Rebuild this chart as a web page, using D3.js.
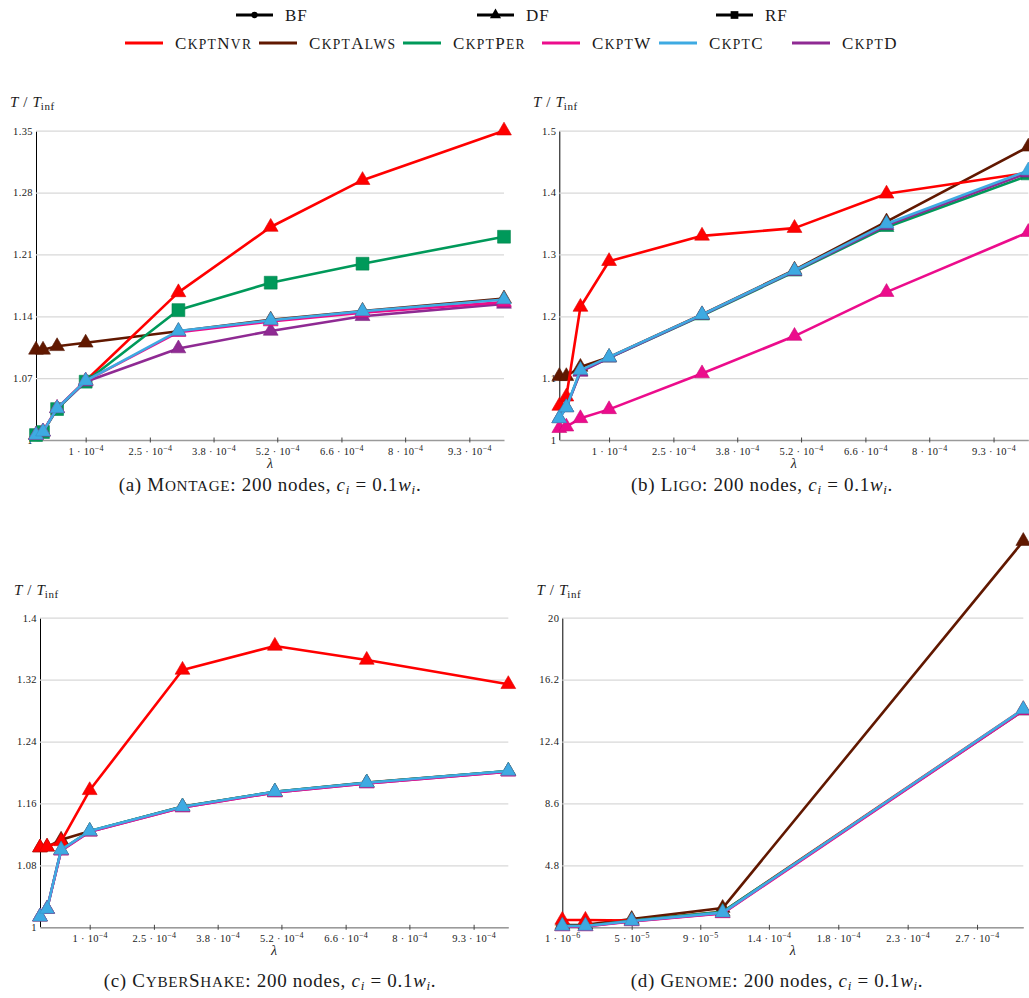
<!DOCTYPE html>
<html lang="en">
<head>
<meta charset="utf-8">
<title>Checkpointing strategies</title>
<script src="https://cdn.jsdelivr.net/npm/d3@7"></script>
<style>
    body { margin: 0; background: #fff; }
    svg text { font-family: "Liberation Serif", "DejaVu Serif", serif; fill: #1a1a1a; }
</style>
</head>
<body>
<div id="chart"></div>
<script>
    var W = 1029, H = 998;

    // lambda values on the x axis
    var lambdas = [1e-6, 1.6e-5, 4.6e-5, 1.07e-4, 3.05e-4, 5.02e-4, 6.98e-4, 1e-3];
    var lambdasGenome = [1e-6, 1.6e-5, 4.6e-5, 1.05e-4, 3e-4];

    var strategies = ["CkptNvr", "CkptAlws", "CkptPer", "CkptW", "CkptC", "CkptD"];
    var colors = ["#ff0000", "#611800", "#00995a", "#ec0c8c", "#3eaae2", "#8f2a93"];
    var drawOrder = [1, 0, 2, 5, 3, 4];

    var traversals = ["BF", "DF", "RF"];
    var traversalMarks = ["circle", "triangle", "square"];

    // T / Tinf, one row per strategy (same order as strategies)
    var montage = [
        [1.0056, 1.0094, 1.0358, 1.067, 1.167, 1.241, 1.294, 1.35],
        [1.102, 1.102, 1.106, 1.110, 1.123, 1.136, 1.146, 1.160],
        [1.0056, 1.009, 1.035, 1.066, 1.147, 1.178, 1.1995, 1.230],
        [1.0056, 1.0094, 1.036, 1.067, 1.122, 1.134, 1.144, 1.156],
        [1.0056, 1.0094, 1.0358, 1.067, 1.1234, 1.1355, 1.1456, 1.159],
        [1.0056, 1.0094, 1.0358, 1.066, 1.1035, 1.1234, 1.140, 1.154]
    ];
    var ligo = [
        [1.055, 1.07, 1.215, 1.289, 1.330, 1.3425, 1.398, 1.432],
        [1.103, 1.103, 1.118, 1.134, 1.203, 1.275, 1.353, 1.474],
        [1.035, 1.0527, 1.111, 1.133, 1.201, 1.272, 1.344, 1.4275],
        [1.019, 1.0215, 1.035, 1.0495, 1.1075, 1.168, 1.239, 1.336],
        [1.035, 1.0527, 1.113, 1.134, 1.2027, 1.274, 1.3495, 1.4355],
        [1.035, 1.0527, 1.110, 1.133, 1.202, 1.273, 1.347, 1.432]
    ];
    var cybershake = [
        [1.103, 1.104, 1.111, 1.177, 1.3325, 1.3635, 1.3454, 1.314],
        [1.103, 1.104, 1.113, 1.124, 1.156, 1.175, 1.187, 1.202],
        [1.0137, 1.0237, 1.100, 1.1244, 1.1558, 1.1752, 1.1868, 1.202],
        [1.0137, 1.0237, 1.099, 1.1234, 1.1548, 1.1742, 1.1858, 1.201],
        [1.0137, 1.0237, 1.100, 1.1244, 1.1558, 1.1752, 1.1868, 1.202],
        [1.0137, 1.0237, 1.099, 1.1234, 1.1548, 1.1742, 1.1858, 1.201]
    ];
    var genome = [
        [1.45, 1.45, 1.42, 1.95, 14.38],
        [1.14, 1.16, 1.50, 2.18, 24.7],
        [1.08, 1.08, 1.42, 1.95, 14.3],
        [1.05, 1.05, 1.36, 1.85, 14.3],
        [1.08, 1.08, 1.39, 1.90, 14.38],
        [1.06, 1.06, 1.37, 1.87, 14.33]
    ];

    // marker used by each strategy in each panel
    var montageMarks = ["triangle", "triangle", "square", "triangle", "triangle", "triangle"];
    var otherMarks = ["triangle", "triangle", "triangle", "triangle", "triangle", "triangle"];

    // tick values and labels
    var xTicksMain = [1.07e-4, 2.44e-4, 3.8e-4, 5.16e-4, 6.53e-4, 7.89e-4, 9.26e-4];
    var xTickMantMain = ["1", "2.5", "3.8", "5.2", "6.6", "8", "9.3"];
    var xTickExpMain = ["\u22124", "\u22124", "\u22124", "\u22124", "\u22124", "\u22124", "\u22124"];
    var xTicksGenome = [1e-6, 4.6e-5, 9.05e-5, 1.35e-4, 1.8e-4, 2.25e-4, 2.7e-4];
    var xTickMantGenome = ["1", "5", "9", "1.4", "1.8", "2.3", "2.7"];
    var xTickExpGenome = ["\u22126", "\u22125", "\u22125", "\u22124", "\u22124", "\u22124", "\u22124"];

    var yTicksMontage = [1, 1.07, 1.14, 1.21, 1.28, 1.35];
    var yTicksLigo = [1, 1.1, 1.2, 1.3, 1.4, 1.5];
    var yTicksCyber = [1, 1.08, 1.16, 1.24, 1.32, 1.4];
    var yTicksGenome = [1, 4.8, 8.6, 12.4, 16.2, 20];

    var panels = [
        {values: montage, xs: lambdas, marks: montageMarks, yTicks: yTicksMontage, xTicks: xTicksMain,
            mant: xTickMantMain, exp: xTickExpMain, xDomain: [1e-6, 1e-3],
            left: 36, right: 504, top: 130.7, bottom: 440, titleX: 10, titleY: 107,
            letter: "a", name: "Montage", capX: 270, capY: 491},
        {values: ligo, xs: lambdas, marks: otherMarks, yTicks: yTicksLigo, xTicks: xTicksMain,
            mant: xTickMantMain, exp: xTickExpMain, xDomain: [1e-6, 1e-3],
            left: 559.3, right: 1028.3, top: 130.7, bottom: 440, titleX: 533, titleY: 107,
            letter: "b", name: "Ligo", capX: 762, capY: 491},
        {values: cybershake, xs: lambdas, marks: otherMarks, yTicks: yTicksCyber, xTicks: xTicksMain,
            mant: xTickMantMain, exp: xTickExpMain, xDomain: [1e-6, 1e-3],
            left: 40, right: 508.3, top: 617.7, bottom: 927.3, titleX: 14, titleY: 595,
            letter: "c", name: "CyberShake", capX: 270, capY: 987},
        {values: genome, xs: lambdasGenome, marks: otherMarks, yTicks: yTicksGenome, xTicks: xTicksGenome,
            mant: xTickMantGenome, exp: xTickExpGenome, xDomain: [1e-6, 3e-4],
            left: 562.3, right: 1023.3, top: 617.7, bottom: 927.3, titleX: 536.5, titleY: 595,
            letter: "d", name: "Genome", capX: 777, capY: 987}
    ];

    var svg = d3.select("#chart").append("svg")
        .attr("width", W)
        .attr("height", H);

    // marker shapes
    function markPath(kind) {
        if (kind === "square") return d3.symbol(d3.symbolSquare, 165)();
        if (kind === "circle") return d3.symbol(d3.symbolCircle, 55)();
        return d3.symbol(d3.symbolTriangle, 95)();
    }

    // lower case letters become smaller capitals
    function smallCaps(sel, str, size) {
        var runs = [];
        for (var i = 0; i < str.length; i++) {
            var ch = str[i];
            var up = ch === ch.toUpperCase();
            if (runs.length && runs[runs.length - 1].up === up) runs[runs.length - 1].s += ch;
            else runs.push({up: up, s: ch});
        }
        runs.forEach(function (r) {
            sel.append("tspan")
                .attr("font-size", r.up ? size : size * 0.8)
                .text(r.s.toUpperCase());
        });
    }

    // legend
    var legTop = svg.append("g");
    var legTopLine = [236, 477, 716];
    traversals.forEach(function (t, i) {
        legTop.append("line")
            .attr("x1", legTopLine[i]).attr("x2", legTopLine[i] + 37)
            .attr("y1", 15).attr("y2", 15)
            .attr("stroke", "#000").attr("stroke-width", 3);
        legTop.append("path")
            .attr("d", markPath(traversalMarks[i]))
            .attr("transform", "translate(" + (legTopLine[i] + 18.5) + ",15)" + (traversalMarks[i] === "square" ? " scale(0.6)" : " scale(0.75)"))
            .attr("fill", "#000");
        legTop.append("text")
            .attr("x", legTopLine[i] + 49).attr("y", 21)
            .attr("font-size", 17)
            .attr("letter-spacing", 1)
            .text(t);
    });

    var legBot = svg.append("g");
    var legBotLine = [125, 259, 403, 542, 659, 792];
    strategies.forEach(function (s, i) {
        legBot.append("line")
            .attr("x1", legBotLine[i]).attr("x2", legBotLine[i] + 38)
            .attr("y1", 43).attr("y2", 43)
            .attr("stroke", colors[i]).attr("stroke-width", 3);
        var t = legBot.append("text")
            .attr("x", legBotLine[i] + 50).attr("y", 48.5)
            .attr("letter-spacing", 1.3);
        smallCaps(t, s, 17);
    });

    panels.forEach(function (p) {
        var g = svg.append("g");

        var x = d3.scaleLinear().domain(p.xDomain).range([p.left, p.right]);
        var y = d3.scaleLinear().domain([p.yTicks[0], p.yTicks[p.yTicks.length - 1]]).range([p.bottom, p.top]);

        // grid + left axis
        var yAxis = d3.axisLeft(y)
            .tickValues(p.yTicks)
            .tickFormat(function (d) { return String(d); })
            .tickSize(-(p.right - p.left))
            .tickSizeOuter(0)
            .tickPadding(3);
        var ya = g.append("g")
            .attr("transform", "translate(" + p.left + ",0)")
            .attr("font-family", null)
            .call(yAxis);
        ya.select(".domain").attr("stroke", "#000").attr("stroke-width", 1);
        ya.selectAll(".tick line").attr("stroke", "#d8d8d8").attr("stroke-width", 1.2);
        ya.selectAll(".tick text")
            .attr("font-size", 10.5)
            .attr("letter-spacing", 0.4)
            .attr("fill", "#1a1a1a");

        // bottom axis
        var xAxis = d3.axisBottom(x)
            .tickValues(p.xTicks)
            .tickFormat("")
            .tickSizeOuter(0);
        var xa = g.append("g")
            .attr("transform", "translate(0," + p.bottom + ")")
            .call(xAxis);
        xa.select(".domain").attr("stroke", "#9a9a9a").attr("stroke-width", 1.4);
        xa.selectAll(".tick line").attr("y1", -2.5).attr("y2", 2.5).attr("stroke", "#444");
        xa.selectAll(".tick text").remove();
        xa.selectAll(".tick").each(function (d, i) {
            var t = d3.select(this).append("text")
                .attr("y", 15)
                .attr("text-anchor", "middle")
                .attr("font-size", 10.5)
                .attr("letter-spacing", 0.3)
                .attr("fill", "#1a1a1a");
            t.append("tspan").text(p.mant[i] + " \u00b7 10");
            t.append("tspan").attr("font-size", 8).attr("dy", -4.5).text(p.exp[i]);
        });

        // axis titles
        var yt = g.append("text")
            .attr("x", p.titleX).attr("y", p.titleY)
            .attr("font-size", 15);
        yt.append("tspan").attr("font-style", "italic").text("T");
        yt.append("tspan").attr("dx", 5).text("/");
        yt.append("tspan").attr("dx", 5).attr("font-style", "italic").text("T");
        yt.append("tspan").attr("font-size", 11).attr("dy", 3).attr("letter-spacing", 0.5).text("inf");

        g.append("text")
            .attr("x", (p.left + p.right) / 2).attr("y", p.bottom + 28)
            .attr("text-anchor", "middle")
            .attr("font-size", 14)
            .attr("font-style", "italic")
            .text("\u03bb");

        // series
        var line = d3.line()
            .x(function (d) { return x(d[0]); })
            .y(function (d) { return y(d[1]); });

        drawOrder.forEach(function (k) {
            var pts = p.xs.map(function (v, j) { return [v, p.values[k][j]]; });
            g.append("path")
                .datum(pts)
                .attr("d", line)
                .attr("fill", "none")
                .attr("stroke", colors[k])
                .attr("stroke-width", 2.6)
                .attr("stroke-linejoin", "round");
            g.selectAll(null)
                .data(pts)
                .enter()
                .append("path")
                .attr("d", markPath(p.marks[k]))
                .attr("transform", function (d) {
                    return "translate(" + x(d[0]) + "," + y(d[1]) + ")";
                })
                .attr("fill", colors[k])
                .attr("stroke", d3.color(colors[k]).darker(0.4))
                .attr("stroke-width", 0.6);
        });

        // caption
        var cap = g.append("text")
            .attr("x", p.capX).attr("y", p.capY)
            .attr("text-anchor", "middle")
            .attr("font-size", 19)
            .attr("letter-spacing", 0.7);
        cap.append("tspan").text("(" + p.letter + ") ");
        smallCaps(cap, p.name, 19);
        cap.append("tspan").text(": 200 nodes, ");
        cap.append("tspan").attr("font-style", "italic").text("c");
        cap.append("tspan").attr("font-style", "italic").attr("font-size", 13).attr("dy", 3).text("i");
        cap.append("tspan").attr("dy", -3).text(" = 0.1");
        cap.append("tspan").attr("font-style", "italic").text("w");
        cap.append("tspan").attr("font-style", "italic").attr("font-size", 13).attr("dy", 3).text("i");
        cap.append("tspan").attr("dy", -3).text(".");
    });
</script>
</body>
</html>
